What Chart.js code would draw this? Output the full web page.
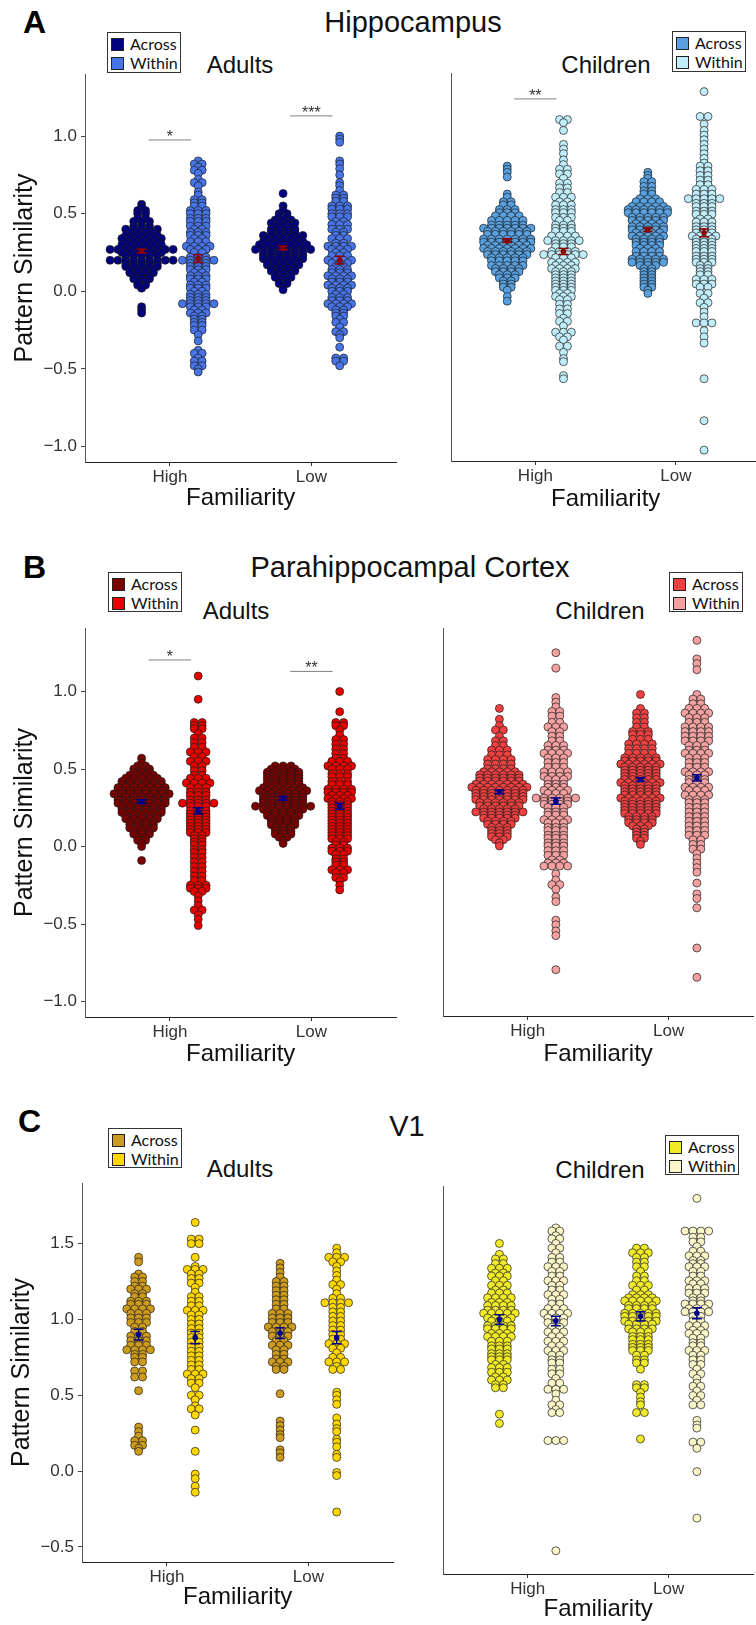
<!DOCTYPE html>
<html>
<head>
<meta charset="utf-8">
<script src="https://cdn.jsdelivr.net/npm/chart.js@4.4.1/dist/chart.umd.min.js"></script>
<style>
html, body { margin: 0; padding: 0; background: #fff; }
body { position: relative; width: 756px; height: 1625px; overflow: hidden; font-family: 'Liberation Sans', Arial, sans-serif; color: #111; }
canvas { position: absolute; }
.t { position: absolute; white-space: nowrap; line-height: 1; }
.letter { font-weight: bold; font-size: 32px; color: #000; }
.main { font-size: 29px; transform: translateX(-50%); }
.sub { font-size: 24px; transform: translateX(-50%); }
.legend { position: absolute; width: 74px; border: 1px solid #333; background: #fff; font-family: Lato, sans-serif; font-size: 16px; line-height: 19px; padding: 1px 2px; box-sizing: border-box; color: #111; }
.legend .sw { display: inline-block; width: 11px; height: 11px; border: 1px solid #222; margin: 0 6px 0 1px; vertical-align: -1px; }
</style>
</head>
<body>
<div class="t letter" style="left:23px;top:6px">A</div>
<div class="t main" style="left:413px;top:8px">Hippocampus</div>
<div class="t sub" style="left:240px;top:53px">Adults</div>
<div class="t sub" style="left:606px;top:53px">Children</div>

<div class="t letter" style="left:23px;top:551px">B</div>
<div class="t main" style="left:410px;top:553px">Parahippocampal Cortex</div>
<div class="t sub" style="left:236px;top:599px">Adults</div>
<div class="t sub" style="left:600px;top:599px">Children</div>

<div class="t letter" style="left:18px;top:1105px">C</div>
<div class="t main" style="left:407px;top:1112px">V1</div>
<div class="t sub" style="left:240px;top:1157px">Adults</div>
<div class="t sub" style="left:600px;top:1158px">Children</div>

<script>
Chart.defaults.font.family = "'Liberation Sans', Arial, sans-serif";

// categories
const familiarity = ['High', 'Low'];
const conditions = ['Across', 'Within'];
const ticksAB = [-1, -0.5, 0, 0.5, 1];
const ticksC = [-0.5, 0, 0.5, 1, 1.5];

// each row: [pattern similarity, number of dots in that row]
// Hippocampus, adults
const hipAdHighAcross = [[0.56,1],[0.54,1],[0.52,2],[0.50,2],[0.47,2],[0.45,3],[0.42,3],[0.40,5],[0.38,4],[0.36,5],[0.34,6],[0.32,5],[0.30,6],[0.27,9],[0.25,6],[0.23,5],[0.20,9],[0.18,5],[0.16,5],[0.14,4],[0.12,4],[0.10,3],[0.08,3],[0.06,2],[0.04,2],[0.02,1],[-0.10,1],[-0.12,1],[-0.14,1]];
const hipAdHighWithin = [[0.84,1],[0.82,2],[0.80,1],[0.78,2],[0.76,1],[0.72,1],[0.70,2],[0.68,1],[0.64,1],[0.62,1],[0.59,2],[0.57,2],[0.55,2],[0.52,3],[0.50,3],[0.47,3],[0.45,3],[0.42,3],[0.40,2],[0.38,3],[0.36,3],[0.34,2],[0.32,3],[0.29,4],[0.27,3],[0.25,2],[0.22,3],[0.20,5],[0.18,3],[0.16,3],[0.14,3],[0.12,2],[0.10,3],[0.08,3],[0.06,2],[0.04,3],[0.02,3],[0.00,2],[-0.02,3],[-0.04,3],[-0.06,3],[-0.08,5],[-0.10,3],[-0.12,2],[-0.14,3],[-0.16,2],[-0.18,2],[-0.20,2],[-0.22,2],[-0.25,2],[-0.28,1],[-0.32,1],[-0.38,1],[-0.40,2],[-0.43,1],[-0.45,2],[-0.48,2],[-0.50,1],[-0.52,1]];
const hipAdLowAcross = [[0.63,1],[0.55,1],[0.52,1],[0.50,2],[0.48,2],[0.46,3],[0.44,4],[0.42,3],[0.40,4],[0.38,4],[0.36,6],[0.34,5],[0.32,6],[0.30,7],[0.27,8],[0.25,6],[0.23,6],[0.21,6],[0.19,5],[0.17,5],[0.15,4],[0.13,4],[0.11,3],[0.09,3],[0.07,2],[0.05,2],[0.03,1],[0.01,1]];
const hipAdLowWithin = [[1.00,1],[0.98,1],[0.96,1],[0.84,1],[0.82,1],[0.79,1],[0.75,1],[0.70,1],[0.68,1],[0.65,1],[0.62,2],[0.60,2],[0.58,2],[0.55,3],[0.53,3],[0.50,3],[0.48,3],[0.45,2],[0.43,3],[0.40,3],[0.38,2],[0.36,2],[0.34,3],[0.31,2],[0.29,4],[0.27,3],[0.25,2],[0.23,3],[0.20,4],[0.18,3],[0.16,2],[0.14,3],[0.12,3],[0.10,4],[0.08,3],[0.06,3],[0.04,4],[0.02,3],[0.00,3],[-0.02,2],[-0.04,3],[-0.06,3],[-0.08,4],[-0.10,3],[-0.12,2],[-0.14,2],[-0.16,2],[-0.18,1],[-0.20,2],[-0.23,1],[-0.26,2],[-0.28,1],[-0.30,1],[-0.36,1],[-0.43,2],[-0.45,2],[-0.48,1]];
const hipAdMeans = [0.26, 0.21, 0.28, 0.20];
const hipAdSe = [0.012, 0.025, 0.012, 0.025];

// Hippocampus, children
const hipChHighAcross = [[0.80,1],[0.78,1],[0.76,1],[0.73,1],[0.62,1],[0.60,1],[0.57,2],[0.55,2],[0.52,3],[0.50,3],[0.48,4],[0.45,5],[0.42,5],[0.40,7],[0.38,6],[0.36,6],[0.33,7],[0.31,7],[0.29,6],[0.27,7],[0.25,6],[0.23,6],[0.21,5],[0.19,5],[0.16,5],[0.14,4],[0.12,4],[0.10,3],[0.08,3],[0.06,2],[0.04,2],[0.02,2],[0.00,1],[-0.04,1],[-0.07,1]];
const hipChHighWithin = [[1.10,2],[1.08,1],[1.03,1],[0.94,1],[0.91,1],[0.88,1],[0.84,1],[0.81,1],[0.78,2],[0.75,2],[0.72,1],[0.69,2],[0.66,2],[0.63,2],[0.60,3],[0.57,2],[0.55,3],[0.52,3],[0.50,3],[0.47,3],[0.45,2],[0.42,3],[0.40,3],[0.38,3],[0.35,4],[0.32,5],[0.30,3],[0.28,3],[0.25,4],[0.23,6],[0.21,3],[0.18,4],[0.16,3],[0.14,4],[0.12,3],[0.10,3],[0.08,3],[0.06,3],[0.04,3],[0.02,3],[0.00,3],[-0.02,2],[-0.04,3],[-0.06,2],[-0.09,2],[-0.12,2],[-0.15,2],[-0.18,1],[-0.20,2],[-0.23,1],[-0.27,3],[-0.30,2],[-0.32,1],[-0.36,2],[-0.40,1],[-0.44,1],[-0.46,1],[-0.55,1],[-0.57,1]];
const hipChLowAcross = [[0.76,1],[0.74,1],[0.72,1],[0.70,2],[0.67,2],[0.64,2],[0.62,2],[0.59,3],[0.57,4],[0.54,5],[0.52,6],[0.50,6],[0.47,5],[0.45,5],[0.43,4],[0.41,5],[0.39,5],[0.37,4],[0.35,5],[0.33,4],[0.31,4],[0.29,4],[0.27,3],[0.25,4],[0.22,4],[0.20,5],[0.18,5],[0.16,3],[0.14,2],[0.12,2],[0.10,2],[0.08,2],[0.06,2],[0.04,2],[0.02,2],[0.00,1],[-0.02,1]];
const hipChLowWithin = [[1.28,1],[1.12,2],[1.07,1],[1.03,1],[1.00,1],[0.97,1],[0.94,1],[0.91,1],[0.88,1],[0.85,1],[0.82,1],[0.80,2],[0.77,2],[0.74,2],[0.71,2],[0.68,2],[0.65,3],[0.62,3],[0.59,5],[0.56,3],[0.54,3],[0.51,3],[0.49,3],[0.46,2],[0.44,3],[0.41,3],[0.39,3],[0.37,3],[0.35,4],[0.33,3],[0.31,3],[0.29,3],[0.27,3],[0.25,3],[0.22,3],[0.20,3],[0.18,3],[0.16,2],[0.14,2],[0.12,2],[0.10,2],[0.07,3],[0.04,3],[0.02,2],[-0.02,2],[-0.05,1],[-0.08,2],[-0.11,1],[-0.14,1],[-0.17,1],[-0.21,3],[-0.26,1],[-0.30,1],[-0.34,1],[-0.57,1],[-0.84,1],[-1.03,1]];
const hipChMeans = [0.32, 0.25, 0.39, 0.37];
const hipChSe = [0.012, 0.02, 0.012, 0.025];

// Parahippocampal cortex, adults
const phcAdHighAcross = [[0.57,1],[0.54,1],[0.52,2],[0.50,3],[0.48,3],[0.46,4],[0.44,5],[0.42,6],[0.40,6],[0.38,7],[0.36,6],[0.34,8],[0.32,7],[0.30,7],[0.28,7],[0.26,6],[0.24,6],[0.22,6],[0.20,5],[0.18,5],[0.16,4],[0.14,4],[0.12,4],[0.10,3],[0.08,3],[0.06,2],[0.04,2],[0.02,1],[0.00,1],[-0.09,1]];
const phcAdHighWithin = [[1.10,1],[0.95,1],[0.80,2],[0.78,2],[0.76,2],[0.73,1],[0.70,2],[0.67,2],[0.64,2],[0.61,3],[0.58,2],[0.55,3],[0.52,2],[0.49,2],[0.46,2],[0.44,3],[0.41,4],[0.38,3],[0.35,3],[0.33,3],[0.30,3],[0.28,5],[0.26,3],[0.23,3],[0.21,3],[0.19,3],[0.17,3],[0.15,3],[0.13,3],[0.11,3],[0.09,3],[0.07,2],[0.05,2],[0.03,2],[0.01,2],[-0.02,2],[-0.04,2],[-0.07,2],[-0.10,2],[-0.13,2],[-0.16,2],[-0.19,2],[-0.22,2],[-0.25,3],[-0.27,3],[-0.29,2],[-0.32,1],[-0.35,1],[-0.38,1],[-0.41,2],[-0.44,1],[-0.47,1],[-0.51,1]];
const phcAdLowAcross = [[0.52,3],[0.50,4],[0.48,5],[0.46,5],[0.44,5],[0.42,5],[0.40,5],[0.38,6],[0.36,7],[0.34,6],[0.32,6],[0.30,6],[0.28,6],[0.26,8],[0.24,6],[0.22,5],[0.20,5],[0.18,4],[0.16,4],[0.14,4],[0.12,3],[0.10,3],[0.08,3],[0.06,2],[0.04,1],[0.02,1]];
const phcAdLowWithin = [[1.00,1],[0.87,1],[0.80,2],[0.78,2],[0.75,1],[0.72,1],[0.69,2],[0.66,2],[0.63,2],[0.60,2],[0.57,2],[0.55,3],[0.52,4],[0.50,3],[0.47,3],[0.45,3],[0.42,3],[0.40,3],[0.37,4],[0.35,4],[0.33,3],[0.31,4],[0.29,3],[0.27,3],[0.25,3],[0.23,3],[0.21,3],[0.19,3],[0.17,3],[0.15,3],[0.13,3],[0.11,3],[0.09,3],[0.07,3],[0.05,3],[0.03,2],[0.01,2],[-0.01,3],[-0.03,3],[-0.05,2],[-0.08,2],[-0.10,2],[-0.12,2],[-0.15,3],[-0.17,2],[-0.20,2],[-0.22,1],[-0.25,1],[-0.28,1]];
const phcAdMeans = [0.29, 0.23, 0.31, 0.26];
const phcAdSe = [0.012, 0.02, 0.012, 0.02];

// Parahippocampal cortex, children
const phcChHighAcross = [[0.89,1],[0.82,1],[0.78,1],[0.75,2],[0.71,1],[0.68,2],[0.65,2],[0.62,3],[0.59,3],[0.56,4],[0.53,4],[0.50,4],[0.48,5],[0.46,6],[0.44,6],[0.42,6],[0.40,7],[0.38,8],[0.36,7],[0.34,7],[0.32,7],[0.30,7],[0.28,6],[0.26,6],[0.24,5],[0.22,7],[0.20,5],[0.18,5],[0.16,4],[0.14,4],[0.12,3],[0.10,3],[0.08,3],[0.06,3],[0.04,2],[0.02,1],[0.00,1]];
const phcChHighWithin = [[1.25,1],[1.15,1],[0.96,1],[0.93,1],[0.90,1],[0.87,2],[0.84,2],[0.80,2],[0.77,3],[0.74,2],[0.71,2],[0.68,2],[0.65,3],[0.62,3],[0.60,4],[0.57,3],[0.54,3],[0.51,3],[0.48,4],[0.45,4],[0.43,3],[0.40,3],[0.38,3],[0.36,4],[0.34,3],[0.31,6],[0.29,4],[0.27,4],[0.25,3],[0.22,3],[0.20,3],[0.17,4],[0.15,3],[0.12,3],[0.10,3],[0.07,3],[0.05,3],[0.02,3],[0.00,3],[-0.03,3],[-0.06,3],[-0.09,2],[-0.11,3],[-0.13,4],[-0.18,1],[-0.22,1],[-0.25,2],[-0.28,1],[-0.33,1],[-0.36,1],[-0.48,1],[-0.51,1],[-0.55,1],[-0.58,1],[-0.80,1]];
const phcChLowAcross = [[0.98,1],[0.89,1],[0.86,2],[0.83,2],[0.80,2],[0.77,2],[0.74,3],[0.72,3],[0.69,3],[0.66,4],[0.63,4],[0.60,4],[0.57,5],[0.55,5],[0.53,6],[0.51,5],[0.49,5],[0.47,5],[0.45,5],[0.43,5],[0.41,6],[0.39,5],[0.37,5],[0.35,5],[0.33,5],[0.31,6],[0.29,5],[0.27,5],[0.25,5],[0.23,5],[0.21,5],[0.19,4],[0.17,4],[0.15,4],[0.13,3],[0.11,2],[0.09,2],[0.07,2],[0.05,2],[0.03,1],[0.01,1]];
const phcChLowWithin = [[1.33,1],[1.21,1],[1.18,1],[1.14,1],[0.98,1],[0.95,2],[0.92,2],[0.89,3],[0.86,4],[0.83,3],[0.80,3],[0.77,4],[0.74,4],[0.71,4],[0.68,4],[0.65,3],[0.62,3],[0.60,4],[0.57,3],[0.54,3],[0.51,3],[0.48,4],[0.46,3],[0.43,3],[0.41,3],[0.38,4],[0.36,3],[0.33,4],[0.30,3],[0.28,3],[0.25,3],[0.22,3],[0.19,3],[0.16,3],[0.13,3],[0.10,3],[0.07,3],[0.04,2],[0.01,2],[-0.02,2],[-0.05,1],[-0.08,1],[-0.11,1],[-0.14,1],[-0.17,1],[-0.24,1],[-0.31,1],[-0.34,1],[-0.40,1],[-0.66,1],[-0.85,1]];
const phcChMeans = [0.35, 0.29, 0.43, 0.44];
const phcChSe = [0.012, 0.02, 0.012, 0.02];

// V1, adults
const v1AdHighAcross = [[1.41,1],[1.38,1],[1.30,1],[1.28,2],[1.25,2],[1.22,2],[1.20,3],[1.17,2],[1.15,2],[1.12,3],[1.10,3],[1.07,4],[1.04,3],[1.01,3],[0.98,3],[0.95,2],[0.92,2],[0.89,3],[0.86,3],[0.83,3],[0.80,4],[0.77,2],[0.75,2],[0.72,2],[0.66,2],[0.62,2],[0.53,1],[0.29,1],[0.26,1],[0.23,1],[0.20,2],[0.17,2],[0.15,1],[0.13,1]];
const v1AdHighWithin = [[1.64,1],[1.53,2],[1.50,2],[1.41,1],[1.35,1],[1.33,3],[1.30,2],[1.27,2],[1.24,2],[1.21,1],[1.18,1],[1.15,2],[1.12,2],[1.09,2],[1.06,3],[1.03,2],[1.00,2],[0.97,2],[0.94,2],[0.91,2],[0.88,2],[0.85,2],[0.82,2],[0.79,2],[0.76,2],[0.73,2],[0.70,2],[0.67,2],[0.64,3],[0.61,2],[0.58,2],[0.55,1],[0.50,2],[0.47,1],[0.43,1],[0.41,2],[0.37,1],[0.27,1],[0.13,1],[-0.02,1],[-0.05,1],[-0.10,1],[-0.14,1]];
const v1AdLowAcross = [[1.37,1],[1.34,1],[1.31,1],[1.28,1],[1.25,2],[1.22,2],[1.19,2],[1.16,2],[1.13,2],[1.10,2],[1.07,2],[1.04,3],[1.01,3],[0.98,3],[0.95,4],[0.92,3],[0.89,3],[0.86,2],[0.83,3],[0.80,2],[0.77,2],[0.74,2],[0.72,3],[0.69,2],[0.67,2],[0.51,1],[0.33,1],[0.30,1],[0.27,1],[0.24,1],[0.22,1],[0.14,1],[0.12,1],[0.09,1]];
const v1AdLowWithin = [[1.47,1],[1.44,1],[1.41,3],[1.38,2],[1.35,1],[1.32,1],[1.29,1],[1.26,1],[1.23,2],[1.20,1],[1.17,1],[1.14,2],[1.11,4],[1.08,2],[1.05,2],[1.02,2],[0.99,2],[0.96,2],[0.93,2],[0.90,2],[0.87,2],[0.84,3],[0.81,2],[0.78,1],[0.75,2],[0.72,3],[0.69,1],[0.67,2],[0.52,1],[0.50,1],[0.47,1],[0.44,1],[0.35,1],[0.31,1],[0.28,1],[0.26,1],[0.21,1],[0.19,1],[0.16,1],[0.11,1],[0.09,1],[-0.01,1],[-0.03,1],[-0.27,1]];
const v1AdMeans = [0.90, 0.88, 0.91, 0.88];
const v1AdSe = [0.035, 0.04, 0.035, 0.04];

// V1, children
const v1ChHighAcross = [[1.53,1],[1.46,1],[1.43,2],[1.40,2],[1.37,3],[1.34,2],[1.32,3],[1.29,2],[1.26,3],[1.23,2],[1.21,3],[1.18,4],[1.15,3],[1.13,4],[1.10,4],[1.08,5],[1.05,4],[1.03,3],[1.00,4],[0.98,4],[0.95,3],[0.93,4],[0.90,3],[0.87,3],[0.85,3],[0.82,3],[0.80,3],[0.78,3],[0.75,2],[0.73,3],[0.70,3],[0.67,2],[0.65,3],[0.62,2],[0.60,2],[0.43,1],[0.37,1]];
const v1ChHighWithin = [[1.63,1],[1.61,2],[1.58,1],[1.56,2],[1.53,1],[1.50,2],[1.47,1],[1.44,2],[1.41,2],[1.38,3],[1.35,2],[1.32,2],[1.29,3],[1.26,2],[1.23,2],[1.20,3],[1.17,2],[1.14,2],[1.11,3],[1.08,4],[1.05,3],[1.02,3],[0.99,2],[0.96,3],[0.93,2],[0.90,3],[0.87,2],[0.84,3],[0.81,2],[0.78,2],[0.76,2],[0.72,2],[0.69,2],[0.66,1],[0.63,2],[0.59,3],[0.56,1],[0.52,1],[0.49,2],[0.46,1],[0.44,2],[0.26,3],[-0.45,1]];
const v1ChLowAcross = [[1.50,2],[1.47,3],[1.44,2],[1.41,2],[1.38,2],[1.35,1],[1.32,2],[1.29,2],[1.26,3],[1.23,2],[1.20,3],[1.18,4],[1.16,5],[1.13,4],[1.11,4],[1.08,5],[1.06,5],[1.03,5],[1.01,4],[0.98,4],[0.96,3],[0.93,3],[0.91,3],[0.88,3],[0.86,3],[0.84,3],[0.81,2],[0.78,2],[0.76,2],[0.72,1],[0.62,2],[0.60,2],[0.57,1],[0.54,1],[0.51,1],[0.49,1],[0.44,2],[0.27,1]];
const v1ChLowWithin = [[1.82,1],[1.61,4],[1.57,2],[1.54,2],[1.51,1],[1.48,2],[1.45,3],[1.42,2],[1.40,2],[1.38,3],[1.35,2],[1.32,2],[1.29,3],[1.27,2],[1.24,3],[1.21,3],[1.18,2],[1.16,2],[1.14,4],[1.11,3],[1.09,4],[1.06,2],[1.03,2],[1.00,3],[0.97,2],[0.95,3],[0.92,2],[0.89,2],[0.87,2],[0.84,3],[0.81,2],[0.78,2],[0.75,2],[0.72,1],[0.69,2],[0.66,1],[0.63,1],[0.61,2],[0.58,1],[0.55,2],[0.52,1],[0.49,2],[0.39,1],[0.36,1],[0.34,1],[0.25,2],[0.21,1],[0.06,1],[-0.24,1]];
const v1ChMeans = [1.04, 1.03, 1.06, 1.08];
const v1ChSe = [0.03, 0.03, 0.03, 0.035];

// significance brackets: [familiarity index, height, stars]
const hipAdSig = [[0, 0.975, '*'], [1, 1.13, '***']];
const hipChSig = [[0, 1.233, '**']];
const phcAdSig = [[0, 1.204, '*'], [1, 1.13, '**']];

const panels = [
  { left: 85, right: 401, top: 74, bottom: 462, titleY: 499, yMin: -1.1, yMax: 1.4, yTicks: ticksAB, axisText: true, yTitlePad: 10,
    groups: [hipAdHighAcross, hipAdHighWithin, hipAdLowAcross, hipAdLowWithin], means: hipAdMeans, se: hipAdSe, sig: hipAdSig,
    colors: ['#000080', '#4775e8'], meanColor: '#8b0000', legend: [107, 32, 41] },
  { left: 451, right: 765, top: 73, bottom: 461, titleY: 500, yMin: -1.1, yMax: 1.4, yTicks: ticksAB, axisText: false,
    groups: [hipChHighAcross, hipChHighWithin, hipChLowAcross, hipChLowWithin], means: hipChMeans, se: hipChSe, sig: hipChSig,
    colors: ['#58a0df', '#bfeefa'], meanColor: '#8b0000', legend: [672, 31, 41] },
  { left: 85, right: 401, top: 628, bottom: 1017, titleY: 1055, yMin: -1.1, yMax: 1.41, yTicks: ticksAB, axisText: true, yTitlePad: 10,
    groups: [phcAdHighAcross, phcAdHighWithin, phcAdLowAcross, phcAdLowWithin], means: phcAdMeans, se: phcAdSe, sig: phcAdSig,
    colors: ['#7d0000', '#e80000'], meanColor: '#00008b', legend: [108, 572, 40] },
  { left: 443, right: 758, top: 628, bottom: 1016, titleY: 1055, yMin: -1.1, yMax: 1.41, yTicks: ticksAB, axisText: false,
    groups: [phcChHighAcross, phcChHighWithin, phcChLowAcross, phcChLowWithin], means: phcChMeans, se: phcChSe, sig: [],
    colors: ['#f04040', '#f4a0a0'], meanColor: '#00008b', legend: [669, 572, 40] },
  { left: 82, right: 398, top: 1183, bottom: 1562, titleY: 1598, yMin: -0.6, yMax: 1.9, yTicks: ticksC, axisText: true, yTitlePad: 7.5,
    groups: [v1AdHighAcross, v1AdHighWithin, v1AdLowAcross, v1AdLowWithin], means: v1AdMeans, se: v1AdSe, sig: [],
    colors: ['#cd9b1d', '#ffd700'], meanColor: '#00008b', legend: [108, 1128, 40] },
  { left: 443, right: 758, top: 1186, bottom: 1574, titleY: 1610, yMin: -0.6, yMax: 1.9, yTicks: ticksC, axisText: false,
    groups: [v1ChHighAcross, v1ChHighWithin, v1ChLowAcross, v1ChLowWithin], means: v1ChMeans, se: v1ChSe, sig: [],
    colors: ['#f0ea28', '#fbf6c8'], meanColor: '#00008b', legend: [665, 1135, 40] }
];

const groupCat = [1, 1, 2, 2];
const groupSide = [-0.2, 0.2, -0.2, 0.2];

function fmt(v) {
  return v.toFixed(1).replace('-', '\u2212');
}

// stack the dots of one row side by side, centred on the group position
function rowsToPoints(rows, center, step) {
  const pts = [];
  rows.forEach(([v, n]) => {
    for (let k = 0; k < n; k++) pts.push({ x: center + (k - (n - 1) / 2) * step, y: v });
  });
  return pts;
}

const overlay = {
  id: 'overlay',
  afterDatasetsDraw(chart, args, o) {
    const { ctx } = chart;
    const xs = chart.scales.x, ys = chart.scales.y;
    ctx.save();
    // brackets
    o.sig.forEach(([ci, h, stars]) => {
      const x0 = xs.getPixelForValue(ci + 1 - 0.15), x1 = xs.getPixelForValue(ci + 1 + 0.15);
      const yy = ys.getPixelForValue(h);
      ctx.strokeStyle = '#808080';
      ctx.lineWidth = 1;
      ctx.beginPath();
      ctx.moveTo(x0, yy); ctx.lineTo(x1, yy);
      ctx.stroke();
      ctx.fillStyle = '#333';
      ctx.font = "16px 'Liberation Sans', Arial, sans-serif";
      ctx.textAlign = 'center';
      ctx.textBaseline = 'alphabetic';
      ctx.fillText(stars, (x0 + x1) / 2, yy + 2);
    });
    // means with standard error bars
    o.means.forEach((m, i) => {
      const cx = xs.getPixelForValue(groupCat[i] + groupSide[i]);
      const yt = ys.getPixelForValue(m + o.se[i]);
      const yb = ys.getPixelForValue(m - o.se[i]);
      const ym = ys.getPixelForValue(m);
      ctx.strokeStyle = o.color;
      ctx.lineWidth = 1.5;
      ctx.beginPath();
      ctx.moveTo(cx - 5, yt); ctx.lineTo(cx + 5, yt);
      ctx.moveTo(cx, yt); ctx.lineTo(cx, yb);
      ctx.moveTo(cx - 5, yb); ctx.lineTo(cx + 5, yb);
      ctx.stroke();
      ctx.fillStyle = o.color;
      ctx.beginPath();
      ctx.arc(cx, ym, 2.8, 0, Math.PI * 2);
      ctx.fill();
    });
    ctx.restore();
  }
};

function buildPanel(p) {
  const yW = p.axisText ? p.left : 10;
  const xH = Math.round(p.titleY - p.bottom + 14.4);
  const cv = document.createElement('canvas');
  cv.width = p.right - p.left + yW;
  cv.height = p.bottom - p.top + 20 + xH;
  cv.style.left = (p.left - yW) + 'px';
  cv.style.top = (p.top - 20) + 'px';
  document.body.appendChild(cv);

  const step = 8 / ((p.right - p.left) / 2.2);
  const datasets = p.groups.map((rows, g) => ({
    label: familiarity[groupCat[g] - 1] + ' ' + conditions[g % 2],
    data: rowsToPoints(rows, groupCat[g] + groupSide[g], step),
    pointRadius: 4,
    pointHoverRadius: 4,
    pointBackgroundColor: p.colors[g % 2],
    pointBorderColor: '#1c1c1c',
    pointBorderWidth: 0.7,
    showLine: false
  }));

  new Chart(cv, {
    type: 'scatter',
    data: { datasets },
    plugins: [overlay],
    options: {
      responsive: false,
      animation: false,
      events: [],
      clip: false,
      layout: { padding: { top: 20, left: 0, right: 0, bottom: 0 } },
      plugins: {
        legend: { display: false },
        tooltip: { enabled: false },
        overlay: { means: p.means, se: p.se, sig: p.sig, color: p.meanColor }
      },
      scales: {
        x: {
          type: 'linear', min: 0.4, max: 2.6,
          afterBuildTicks: s => { s.ticks = familiarity.map((f, i) => ({ value: i + 1 })); },
          afterFit: s => { s.height = xH; },
          ticks: { callback: (v, i) => familiarity[i], font: { size: 17 }, color: '#333', padding: 1, maxRotation: 0, autoSkip: false },
          grid: { drawOnChartArea: false, drawTicks: true, tickLength: 4, color: '#333' },
          border: { color: '#222', width: 1 },
          title: { display: true, text: 'Familiarity', font: { size: 24 }, color: '#111', padding: 0 }
        },
        y: {
          min: p.yMin, max: p.yMax,
          afterBuildTicks: s => { s.ticks = p.yTicks.map(v => ({ value: v })); },
          afterFit: s => { s.width = yW; },
          ticks: { display: p.axisText, callback: v => fmt(v), font: { size: 17 }, color: '#333', padding: 4 },
          grid: { drawOnChartArea: false, drawTicks: p.axisText, tickLength: 4, color: '#444' },
          border: { color: '#555', width: 1 },
          title: { display: p.axisText, text: 'Pattern Similarity', font: { size: 25 }, color: '#111', padding: { top: p.yTitlePad || 0, bottom: 0 } }
        }
      }
    }
  });

  // legend box
  const lg = document.createElement('div');
  lg.className = 'legend';
  lg.style.left = p.legend[0] + 'px';
  lg.style.top = p.legend[1] + 'px';
  lg.style.height = p.legend[2] + 'px';
  lg.innerHTML = conditions.map((c, i) =>
    '<div><span class="sw" style="background:' + p.colors[i] + '"></span>' + c + '</div>').join('');
  document.body.appendChild(lg);
}

panels.forEach(buildPanel);
</script>
</body>
</html>
